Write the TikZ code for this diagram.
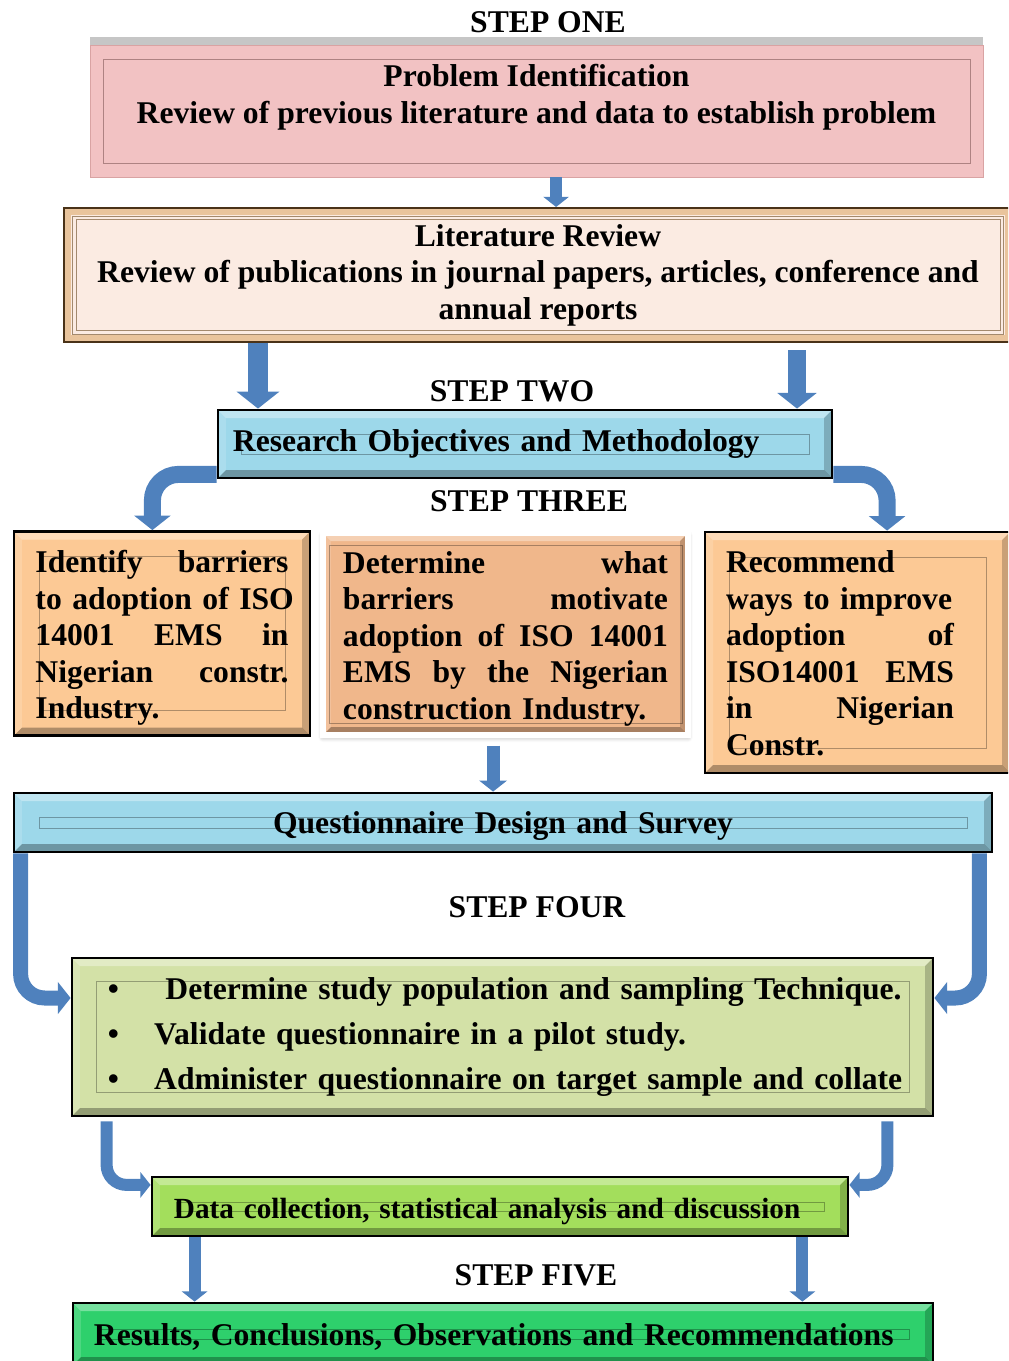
\documentclass[tikz,border=0pt]{standalone}
\usepackage{fontspec}
\setmainfont{Liberation Serif}
\usetikzlibrary{arrows.meta,shadows,shadows.blur}

\definecolor{flowblue}{HTML}{4F81BD}
\definecolor{pinkfill}{HTML}{F2C2C3}
\definecolor{pinkline}{HTML}{D9A3A3}
\definecolor{litfill}{HTML}{FBEBE2}
\definecolor{litline}{HTML}{4A3218}
\definecolor{litband}{HTML}{E9C49C}
\definecolor{skyfill}{HTML}{9DD8EA}
\definecolor{peachfill}{HTML}{FCC995}
\definecolor{peachdark}{HTML}{F0B78B}
\definecolor{olivefill}{HTML}{D3E1A7}
\definecolor{limefill}{HTML}{A3DE5C}
\definecolor{greenfill}{HTML}{2ED06C}

\newcommand{\bigbf}{\fontsize{22.5}{26}\selectfont\bfseries}
\newcommand{\midbf}{\fontsize{20.8}{25}\selectfont\bfseries}
\newcommand{\jline}[2][\linewidth]{\makebox[#1][l]{#2}}

\tikzset{
  bevel/.style 2 args={path picture={
    \coordinate (pnw) at (path picture bounding box.north west);
    \coordinate (pne) at (path picture bounding box.north east);
    \coordinate (psw) at (path picture bounding box.south west);
    \coordinate (pse) at (path picture bounding box.south east);
    \fill[white,opacity=.35] (pnw) -- (pne) -- ([shift={(-2mm,-2mm)}]pne) -- ([shift={(2mm,-2mm)}]pnw) -- cycle;
    \fill[white,opacity=.15] (pnw) -- ([shift={(2mm,-2mm)}]pnw) -- ([shift={(2mm,2mm)}]psw) -- (psw) -- cycle;
    \fill[black,opacity=.3] (psw) -- (pse) -- ([shift={(-2mm,2mm)}]pse) -- ([shift={(2mm,2mm)}]psw) -- cycle;
    \fill[black,opacity=.2] (pne) -- (pse) -- ([shift={(-2mm,2mm)}]pse) -- ([shift={(-2mm,-2mm)}]pne) -- cycle;
    \draw[black,opacity=.3,line width=.5pt] ([shift={(#1,-#2)}]pnw) rectangle ([shift={(-#1,#2)}]pse);
  }},
  box/.style={inner sep=0pt, align=center, font=\bigbf},
  steplabel/.style={inner sep=0pt, font=\bigbf},
  flow/.style={draw=flowblue, line width=#1, -{Triangle[width=0pt 2.1, length=0pt 0.85]}},
}

\begin{document}
\begin{tikzpicture}[x=0.25mm,y=-0.25mm]
\clip (0,0) rectangle (1008,1361);

% step one
\node (s1) at (548,22) [steplabel] {STEP ONE};
\node (pi) at (536.5,111) [box, fill=pinkfill, draw=pinkline, minimum width=223.25mm, minimum height=33mm,
  drop shadow={shadow xshift=0mm, shadow yshift=2mm, opacity=.45, fill=gray},
  path picture={\draw[pinkline!80!black,line width=.6pt] ([shift={(3.25mm,-3.5mm)}]path picture bounding box.north west) rectangle ([shift={(-3.25mm,3.5mm)}]path picture bounding box.south east);}]
  {Problem Identification\\ Review of previous literature and data to establish problem\\[-2pt] \mbox{}};

\node (lr) at (538,275) [box, fill=litfill, draw=litline, line width=.5mm, minimum width=237mm, minimum height=33.5mm,
  path picture={\draw[litband,line width=1.6mm] ([shift={(1mm,-1mm)}]path picture bounding box.north west) rectangle ([shift={(-1mm,1mm)}]path picture bounding box.south east);
    \draw[litband!70!black,line width=.6pt] ([shift={(2.2mm,-2mm)}]path picture bounding box.north west) rectangle ([shift={(-2.2mm,2mm)}]path picture bounding box.south east);
    \draw[litband!70!black,line width=.6pt] ([shift={(3mm,-2.8mm)}]path picture bounding box.north west) rectangle ([shift={(-3mm,2.8mm)}]path picture bounding box.south east);}]
  {Literature Review\\ Review of publications in journal papers, articles, conference and\\ annual reports};

\draw[flow=3mm] ([xshift=4.9mm]pi.south) -- ([xshift=4.9mm]pi.south |- lr.north);

% step two
\node (s2) at (512,391) [steplabel] {STEP TWO};
\node (ro) at (525,444) [box, fill=skyfill, draw=black, line width=.7mm, minimum width=153.5mm, minimum height=17mm,
  text width=146mm, align=left, bevel={5.75mm}{6mm}] {Research Objectives and Methodology};

\draw[flow=5mm] ([xshift=-70mm]lr.south) -- ([xshift=-70mm]lr.south |- ro.north);
\draw[flow=4.6mm] ([shift={(64.75mm,-1.75mm)}]lr.south) -- ([xshift=64.75mm]lr.south |- ro.north);

% step three
\node (s3) at (529,501) [steplabel] {STEP THREE};
\node (ib) at (162,633.5) [box, fill=peachfill, draw=black, line width=.7mm, minimum width=74mm, minimum height=51mm,
  text width=63.25mm, text height=22.4pt, align=left, bevel={6.25mm}{6.25mm}]
  {\jline{Identify\hfill barriers}\\ \mbox{to adoption of ISO}\\ \jline{14001\hfill EMS\hfill in}\\ \jline{Nigerian\hfill constr.}\\ Industry.};
\node (db) at (505.5,634) [box, fill=peachdark, draw=white, line width=1.3mm, minimum width=91.25mm, minimum height=50.5mm,
  text width=81.25mm, text height=22.4pt, align=left, bevel={1.5mm}{3mm},
  blur shadow={shadow xshift=0mm, shadow yshift=-0.6mm, shadow blur radius=1.2mm, shadow blur steps=6, shadow opacity=35}]
  {\jline{Determine\hfill what}\\ \jline{barriers\hfill motivate}\\ \jline{adoption\hfill of\hfill ISO\hfill 14001}\\ \jline{EMS\hfill by\hfill the\hfill Nigerian}\\ construction Industry.};
\node (rc) at (857.5,652.5) [box, fill=peachfill, draw=black, line width=.7mm, minimum width=76.25mm, minimum height=60.25mm,
  text width=65.75mm, text height=16.6pt, align=left, bevel={6mm}{6.25mm}]
  {Recommend\\ \jline[57mm]{ways to improve}\\ \jline[57mm]{adoption\hfill of}\\ \jline[57mm]{ISO14001\hfill EMS}\\ \jline[57mm]{in\hfill Nigerian}\\ Constr.};

\draw[flow=4.25mm, rounded corners=6.5mm] ([yshift=1.25mm]ro.south west) -| ([xshift=-2.4mm]ib.north);
\draw[flow=4.25mm, rounded corners=6.5mm] ([yshift=1.25mm]ro.south east) -| ([xshift=7.4mm]rc.north);

\node (qd) at (503,822.5) [box, fill=skyfill, draw=black, line width=.7mm, minimum width=244.5mm, minimum height=14.75mm,
  text width=230mm, text height=20.9pt, bevel={6.25mm}{6mm}] {Questionnaire Design and Survey};
\draw[flow=3.25mm] ([shift={(-3.1mm,-2mm)}]db.south) -- ([xshift=-3.1mm]db.south |- qd.north);

% step four
\node (s4) at (537,907) [steplabel] {STEP FOUR};
\node (sp) at (502.5,1037) [box, fill=olivefill, draw=black, line width=.7mm, minimum width=215.25mm, minimum height=39.5mm,
  text width=197.25mm, align=left, bevel={6mm}{5.9mm}]
  {\mbox{\textbullet\hspace{33pt}Determine study population and sampling Technique.}\\[6pt]
   \mbox{\textbullet\hspace{25pt}Validate questionnaire in a pilot study.}\\[6pt]
   \mbox{\textbullet\hspace{25pt}Administer questionnaire on target sample and collate}};

\draw[flow=3.75mm, rounded corners=6mm] ([xshift=2mm]qd.south west) |- ([yshift=9.75mm]sp.west);
\draw[flow=3.75mm, rounded corners=6mm] ([xshift=-3.5mm]qd.south east) |- ([yshift=9.75mm]sp.east);

\node (dc) at (500,1206.5) [box, font=\midbf, fill=limefill, draw=black, line width=.7mm, minimum width=174mm, minimum height=14.75mm,
  text width=163mm, text height=21.2pt, align=left, bevel={6mm}{6.25mm}] {Data collection, statistical analysis and discussion};

\draw[flow=3mm, rounded corners=5mm] ([shift={(9mm,-1mm)}]sp.south west) |- ([yshift=5.4mm]dc.west);
\draw[flow=3mm, rounded corners=5mm] ([shift={(-11.75mm,-1mm)}]sp.south east) |- ([yshift=5.4mm]dc.east);

% step five
\node (s5) at (536,1275) [steplabel] {STEP FIVE};
\node (rs) at (503,1334) [box, fill=greenfill, draw=black, line width=.7mm, minimum width=215mm, minimum height=15.5mm,
  text width=204.5mm, text height=19.7pt, align=left, bevel={6mm}{6.5mm}] {Results, Conclusions, Observations and Recommendations};

\draw[flow=3mm] ([xshift=11mm]dc.south west) -- ([xshift=11mm]dc.south west |- rs.north);
\draw[flow=3mm] ([xshift=-11.75mm]dc.south east) -- ([xshift=-11.75mm]dc.south east |- rs.north);
\end{tikzpicture}
\end{document}
